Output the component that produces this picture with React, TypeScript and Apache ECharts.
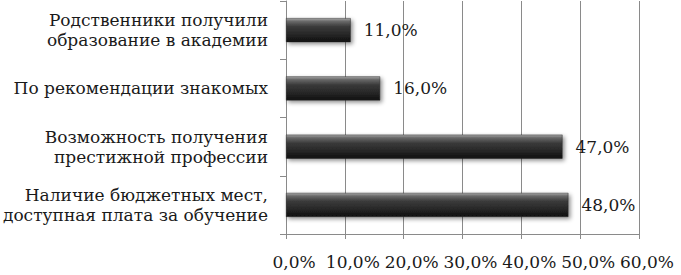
import React, { useEffect, useRef } from "react";
import * as echarts from "echarts";

const categories = [
  "Родственники получили\nобразование в академии",
  "По рекомендации знакомых",
  "Возможность получения\nпрестижной профессии",
  "Наличие бюджетных мест,\nдоступная плата за обучение",
];
const values = [11, 16, 47, 48];
const axisMin = 0;
const axisMax = 60;
const axisStep = 10;

const fmt = (v: number) => v.toFixed(1).replace(".", ",") + "%";

export default function App() {
  const ref = useRef<HTMLDivElement>(null);
  useEffect(() => {
    document.body.style.margin = "0";
    const chart = echarts.init(ref.current!, null, { renderer: "svg" });
    const font = "DejaVu Serif";
    chart.setOption({
      animation: false,
      backgroundColor: "#ffffff",
      textStyle: { fontFamily: font },
      grid: {
        left: 286,
        right: 42,
        top: 1,
        bottom: 41,
        containLabel: false,
        outerBoundsMode: "none",
      },
      xAxis: {
        type: "value",
        min: axisMin,
        max: axisMax,
        interval: axisStep,
        axisLine: { show: true, lineStyle: { color: "#8a8a8a", width: 1 } },
        axisTick: { show: true, length: 5, lineStyle: { color: "#8a8a8a" } },
        splitLine: { show: true, lineStyle: { color: "#8a8a8a", width: 1 } },
        axisLabel: {
          formatter: (v: number) => fmt(v),
          color: "#1a1a1a",
          fontFamily: font,
          fontSize: 17,
          margin: 19,
          padding: [0, 0, 0, 16],
        },
      },
      yAxis: {
        type: "category",
        data: categories,
        inverse: true,
        axisLine: { show: true, lineStyle: { color: "#8a8a8a", width: 1 } },
        axisTick: { show: true, length: 6, lineStyle: { color: "#8a8a8a" } },
        axisLabel: {
          color: "#1a1a1a",
          fontFamily: font,
          fontSize: 17,
          lineHeight: 20,
          margin: 18,
          align: "right",
        },
      },
      series: [
        {
          type: "bar",
          data: values,
          barWidth: 24,
          itemStyle: {
            color: new echarts.graphic.LinearGradient(0, 0, 0, 1, [
              { offset: 0, color: "#a8a8a8" },
              { offset: 0.12, color: "#6a6a6a" },
              { offset: 0.35, color: "#3a3a3a" },
              { offset: 0.7, color: "#262626" },
              { offset: 1, color: "#0e0e0e" },
            ]),
            borderColor: "#2a2a2a",
            borderWidth: 0.5,
            shadowColor: "rgba(0,0,0,0.45)",
            shadowBlur: 4,
            shadowOffsetX: 2,
            shadowOffsetY: 2,
          },
          label: {
            show: true,
            position: "right",
            distance: 13,
            formatter: (p: any) => fmt(p.value),
            color: "#1a1a1a",
            fontFamily: font,
            fontSize: 17,
          },
        },
      ],
    });
    return () => chart.dispose();
  }, []);
  return <div ref={ref} style={{ width: 681, height: 275 }} />;
}
